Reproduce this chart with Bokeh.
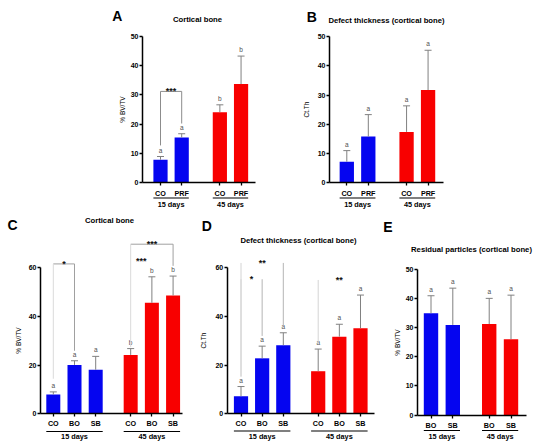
from bokeh.plotting import figure
from bokeh.models import Range1d, LinearAxis, FixedTicker, ColumnDataSource, Label
from bokeh.layouts import column, row
from bokeh.core.properties import value
from bokeh.embed import file_html
from bokeh.resources import INLINE

FONT = "Liberation Sans"
BLUE = "#0505f0"
RED = "#f80000"
ERR = "#808080"

# ---------------- data ----------------
groups = ["15 days", "45 days"]

a_cats = ["CO", "PRF"]
a_mean = [7.8, 15.4, 24.1, 33.7]
a_top = [8.9, 16.7, 26.6, 43.3]
a_letters = ["a", "a", "b", "b"]

b_cats = ["CO", "PRF"]
b_mean = [7.2, 15.8, 17.4, 31.7]
b_top = [11.0, 23.3, 26.3, 45.3]
b_letters = ["a", "a", "a", "a"]

c_cats = ["CO", "BO", "SB"]
c_mean = [7.9, 20.1, 18.1, 24.2, 45.6, 48.6]
c_top = [9.0, 21.8, 23.6, 26.8, 56.3, 56.6]
c_letters = ["a", "a", "a", "b", "b", "b"]

d_cats = ["CO", "BO", "SB"]
d_mean = [7.2, 22.8, 28.2, 17.5, 31.7, 35.2]
d_top = [11.2, 27.8, 33.3, 26.6, 36.8, 48.8]
d_letters = ["a", "a", "a", "a", "a", "a"]

e_cats = ["BO", "SB"]
e_mean = [34.9, 30.9, 31.2, 26.0]
e_top = [40.9, 43.5, 40.0, 41.1]
e_letters = ["a", "a", "a", "a"]

# brackets: (bar i, bar j, level, left leg bottom, right leg bottom)
a_brackets = [(0, 1, 31.2, 12.7, 20.2)]
c_brackets = [(0, 1, 61.6, 14.4, 25.9), (3, 5, 69.7, 27.4, 60.8)]
d_brackets = [(0, 1, 55.3, 15.3, 32.0), (0, 2, 62.0, 15.3, 36.0), (3, 5, 55.0, 29.0, 55.0)]
# significance marks: (text, bar i, bar j, level)
a_stars = [("***", 0, 1, 31.2)]
c_stars = [("*", 0, 1, 61.6), ("***", 3, 5, 69.7), ("***", 3, 4, 62.6)]
d_stars = [("*", 0, 1, 55.3), ("**", 0, 2, 62.0), ("**", 3, 5, 55.0)]


def panel(L, cats, means, tops, letters, ylabel, title, letter,
          brackets=(), stars=(), top_line=True, left_col="#8c8c8c", right_col="#8c8c8c"):
    W, H = L["W"], L["H"]
    pitch = L["pitch"]
    ys = (L["y0"] - L["ytop"]) / L["ymax"]
    px2x = lambda px: (px - L["c0"]) / pitch
    py2y = lambda py: (L["y0"] - py) / ys
    n = len(cats)
    pos = [g * L["gstep"] + j for g in range(len(groups)) for j in range(n)]
    colors = [BLUE if g == 0 else RED for g in range(len(groups)) for j in range(n)]

    p = figure(width=W, height=H, x_range=Range1d(px2x(0), px2x(W)),
               y_range=Range1d(py2y(H), py2y(0)), x_axis_type=None, y_axis_type=None,
               toolbar_location=None, output_backend="svg", min_border=0,
               outline_line_color=None, background_fill_color="white",
               border_fill_color="white")
    bw = L["bw"] / pitch
    cw = L["cap"] / pitch
    src = ColumnDataSource(dict(x=pos, m=means, t=tops, c=colors, lab=letters,
                                xl=[v - cw / 2 for v in pos], xr=[v + cw / 2 for v in pos]))
    p.vbar(x="x", top="m", bottom=0, width=bw, fill_color="c", line_color=None, source=src)
    p.segment(x0="x", y0="m", x1="x", y1="t", line_color=ERR, line_width=1, source=src)
    p.segment(x0="xl", y0="t", x1="xr", y1="t", line_color=ERR, line_width=1, source=src)
    p.text(x="x", y="t", text="lab", y_offset=-3, text_align="center", text_baseline="bottom",
           text_font=value(FONT), text_font_size="6.5px", text_color="#505050", source=src)

    # significance brackets
    for (i, j, lvl, lb, rb) in brackets:
        if top_line:
            p.segment(x0=[pos[i]], y0=[lvl], x1=[pos[j]], y1=[lvl], line_color=right_col, line_width=1)
        p.segment(x0=[pos[i]], y0=[lvl], x1=[pos[i]], y1=[lb], line_color=left_col, line_width=1)
        p.segment(x0=[pos[j]], y0=[lvl], x1=[pos[j]], y1=[rb], line_color=right_col, line_width=1)
    if stars:
        p.text(x=[(pos[i] + pos[j]) / 2 for (_, i, j, _l) in stars], y=[s[3] for s in stars],
               text=[s[0] for s in stars], text_align="center", text_baseline="alphabetic",
               text_font=value(FONT), text_font_size="9px", text_font_style="bold",
               text_color="#111111")

    # group labels and underlines
    gx = [sum(pos[g * n:(g + 1) * n]) / n for g in range(len(groups))]
    p.segment(x0=[pos[g * n] - bw / 2 for g in range(len(groups))], y0=py2y(L["uline"]),
              x1=[pos[g * n + n - 1] + bw / 2 for g in range(len(groups))], y1=py2y(L["uline"]),
              line_color="black", line_width=1.2)
    p.text(x=gx, y=py2y(L["glab"]), text=groups, text_align="center", text_baseline="middle",
           text_font=value(FONT), text_font_size="7.3px", text_font_style="bold", text_color="black")

    # axes
    xax = LinearAxis(fixed_location=0, bounds=(px2x(L["ax"]), px2x(L["xend"])),
                     ticker=FixedTicker(ticks=pos),
                     major_label_overrides={v: c for v, c in zip(pos, cats * len(groups))},
                     axis_line_width=1.5, major_tick_line_width=1.3, major_tick_out=3,
                     major_tick_in=0, minor_tick_out=0, minor_tick_in=0,
                     major_label_standoff=L["xstand"], major_label_text_font=FONT,
                     major_label_text_font_style="bold", major_label_text_font_size="7.2px",
                     major_label_text_color="black")
    p.add_layout(xax, "below")
    yax = LinearAxis(fixed_location=px2x(L["ax"]), bounds=(0, L["ymax"]),
                     ticker=FixedTicker(ticks=list(range(0, L["ymax"] + 1, L["step"]))),
                     axis_label=ylabel, axis_label_standoff=L["ystand"],
                     axis_label_text_font=FONT, axis_label_text_font_style="normal",
                     axis_label_text_font_size="6.5px", axis_label_text_color="black",
                     axis_line_width=1.5, major_tick_line_width=1.3, major_tick_out=3,
                     major_tick_in=0, minor_tick_out=0, minor_tick_in=0,
                     major_label_standoff=1, major_label_text_font=FONT,
                     major_label_text_font_style="bold", major_label_text_font_size="7px",
                     major_label_text_color="black")
    p.add_layout(yax, "left")

    p.add_layout(Label(x=px2x(L["tx"]), y=py2y(L["ty"]), text=title, text_align="center",
                       text_baseline="middle", text_font=FONT, text_font_size="7.7px",
                       text_font_style="bold", text_color="black"))
    p.add_layout(Label(x=px2x(L["lx"]), y=py2y(L["ly"]), text=letter, text_align="center",
                       text_baseline="middle", text_font=FONT, text_font_size="14px",
                       text_font_style="bold", text_color="black"))
    return p


LA = dict(W=280, H=210, ax=142, c0=160, pitch=21.2, gstep=2.8, bw=14.2, cap=7, xend=255,
          y0=182, ytop=36, ymax=50, step=10, tx=197, ty=19, lx=116.7, ly=15.8,
          uline=197.5, glab=204, xstand=3, ystand=2)
LB = dict(W=275, H=210, ax=49, c0=66.3, pitch=21.5, gstep=2.78, bw=14.3, cap=7, xend=163.3,
          y0=182.3, ytop=36, ymax=50, step=10, tx=106, ty=20, lx=31.3, ly=16,
          uline=197.5, glab=204, xstand=3, ystand=5)
LC = dict(W=185, H=237, ax=40, c0=52.8, pitch=21.2, gstep=3.65, bw=14, cap=7, xend=181.7,
          y0=203.3, ytop=57.3, ymax=60, step=20, tx=109, ty=10, lx=12, ly=14.7,
          uline=221, glab=226, xstand=2, ystand=4)
LD = dict(W=190, H=237, ax=41.7, c0=55.5, pitch=21.15, gstep=3.65, bw=14.2, cap=7, xend=189,
          y0=203.3, ytop=57.3, ymax=60, step=20, tx=113, ty=30, lx=21.3, ly=15,
          uline=220.5, glab=226, xstand=2, ystand=6)
LE = dict(W=180, H=237, ax=42, c0=55.5, pitch=21.8, gstep=2.67, bw=14.4, cap=7, xend=151.3,
          y0=204.5, ytop=58.7, ymax=50, step=10, tx=96, ty=39, lx=12.5, ly=16,
          uline=220, glab=226, xstand=3, ystand=2)

pA = panel(LA, a_cats, a_mean, a_top, a_letters, "% BV/TV", "Cortical bone", "A",
           a_brackets, a_stars)
pB = panel(LB, b_cats, b_mean, b_top, b_letters, "Ct.Th", "Defect thickness (cortical bone)", "B")
pC = panel(LC, c_cats, c_mean, c_top, c_letters, "% BV/TV", "Cortical bone", "C",
           c_brackets, c_stars, left_col="#dadada", right_col="#a0a0a0")
pD = panel(LD, d_cats, d_mean, d_top, d_letters, "Ct.Th", "Defect thickness (cortical bone)", "D",
           d_brackets, d_stars, top_line=False, left_col="#d4d4d4", right_col="#b4b4b4")
pE = panel(LE, e_cats, e_mean, e_top, e_letters, "% BV/TV", "Residual particles (cortical bone)", "E")

layout = column(row(pA, pB, spacing=0), row(pC, pD, pE, spacing=0), spacing=0)
open("out.html", "w").write(file_html(layout, INLINE))
